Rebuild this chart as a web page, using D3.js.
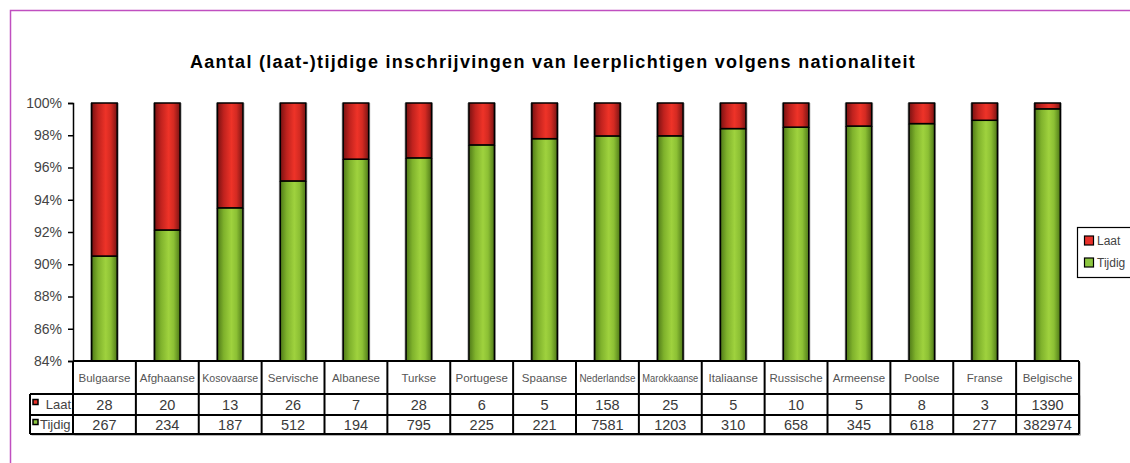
<!DOCTYPE html>
<html><head><meta charset="utf-8">
<script src="https://cdn.jsdelivr.net/npm/d3@7"></script>
<style>
html,body{margin:0;padding:0;background:#fff;}
svg{display:block;font-family:"Liberation Sans",Arial,sans-serif;}
</style></head>
<body>
<svg id="chart" width="1130" height="463"></svg>
<script>
const categories = ["Bulgaarse","Afghaanse","Kosovaarse","Servische","Albanese","Turkse","Portugese","Spaanse","Nederlandse","Marokkaanse","Italiaanse","Russische","Armeense","Poolse","Franse","Belgische"];
const laat =   [28, 20, 13, 26, 7, 28, 6, 5, 158, 25, 5, 10, 5, 8, 3, 1390];
const tijdig = [267, 234, 187, 512, 194, 795, 225, 221, 7581, 1203, 310, 658, 345, 618, 277, 382974];
const seriesNames = ["Tijdig","Laat"];
const yTicks = [0.84,0.86,0.88,0.90,0.92,0.94,0.96,0.98,1.00];
const title = "Aantal (laat-)tijdige inschrijvingen van leerplichtigen volgens nationaliteit";

const svg = d3.select("#chart");
const plot = {left:73, right:1079, top:103, bottom:361};

// outer frame
svg.append("rect").attr("x",10.5).attr("y",10.5).attr("width",1200).attr("height",600)
  .attr("fill","none").attr("stroke","#c04fc0").attr("stroke-width",1.5);

svg.append("text").attr("x",553).attr("y",68).attr("text-anchor","middle")
  .attr("font-size",18).attr("font-weight","bold").attr("letter-spacing",1.3).attr("fill","#000").text(title);

const defs = svg.append("defs");
function grad(id, stops){
  const g = defs.append("linearGradient").attr("id",id).attr("x1","0%").attr("x2","100%").attr("y1","0").attr("y2","0");
  stops.forEach(s=>g.append("stop").attr("offset",s[0]).attr("stop-color",s[1]));
}
grad("gRed",[["0%","#7a1212"],["25%","#c0221e"],["55%","#ee3328"],["75%","#d42a22"],["100%","#7a1414"]]);
grad("gGreen",[["0%","#4f7a18"],["25%","#7fb22c"],["55%","#9fd23e"],["75%","#8cc034"],["100%","#4f7a18"]]);
const fills = {Tijdig:"url(#gGreen)", Laat:"url(#gRed)"};
const solid = {Tijdig:"#8cc63f", Laat:"#e8302a"};

const data = categories.map((c,i)=>({cat:c, Tijdig:tijdig[i], Laat:laat[i]}));
const stack = d3.stack().keys(seriesNames).offset(d3.stackOffsetExpand);
const stacked = stack(data);

const x = d3.scaleBand().domain(categories).range([plot.left, plot.right]).paddingInner(0.595).paddingOuter(0.2975);
const y = d3.scaleLinear().domain([0.84,1]).range([plot.bottom, plot.top]);

defs.append("clipPath").attr("id","plotClip").append("rect")
  .attr("x",plot.left).attr("y",plot.top-2).attr("width",plot.right-plot.left).attr("height",plot.bottom-plot.top+2);

const gBars = svg.append("g").attr("clip-path","url(#plotClip)");
stacked.forEach(s=>{
  const key = s.key;
  gBars.selectAll(null).data(s).enter().append("rect")
    .attr("x",d=>x(d.data.cat)-1.5).attr("width",x.bandwidth()+3)
    .attr("y",d=>y(d[1])).attr("height",d=>Math.max(0,y(Math.max(d[0],0.83))-y(d[1])))
    .attr("fill","#a0a0a0");
  gBars.selectAll(null).data(s).enter().append("rect")
    .attr("x",d=>x(d.data.cat)).attr("width",x.bandwidth())
    .attr("y",d=>y(d[1])).attr("height",d=>Math.max(0,y(Math.max(d[0],0.83))-y(d[1])))
    .attr("fill",fills[key]).attr("stroke","#000").attr("stroke-width",1.5);
});

// y axis
const yAxis = d3.axisLeft(y).tickValues(yTicks).tickFormat(d3.format(".0%")).tickSize(5).tickPadding(6);
const ga = svg.append("g").attr("transform",`translate(${plot.left},0)`).call(yAxis);
ga.select(".domain").attr("stroke","#000").attr("stroke-width",1.5);
ga.selectAll(".tick line").attr("stroke","#000").attr("stroke-width",1.5);
ga.selectAll(".tick text").attr("font-size",14).attr("fill","#444").attr("font-family","'Liberation Sans',Arial,sans-serif");

// data table
const rowTop = [361, 394, 415, 434];
const labelLeft = 30;
const tg = svg.append("g");
const step = (plot.right-plot.left)/categories.length;
tg.append("rect").attr("x",labelLeft+1.5).attr("y",rowTop[1]+1.5).attr("width",plot.right-labelLeft).attr("height",rowTop[3]-rowTop[1]).attr("fill","#999");
tg.append("rect").attr("x",plot.left+1.5).attr("y",rowTop[0]+1.5).attr("width",plot.right-plot.left).attr("height",rowTop[3]-rowTop[0]).attr("fill","#999");
tg.append("rect").attr("x",labelLeft).attr("y",rowTop[1]).attr("width",plot.right-labelLeft).attr("height",rowTop[3]-rowTop[1]).attr("fill","#fff");
tg.append("rect").attr("x",plot.left).attr("y",rowTop[0]).attr("width",plot.right-plot.left).attr("height",rowTop[3]-rowTop[0]).attr("fill","#fff");

categories.forEach((c,i)=>{
  const cx = plot.left + step*i + step/2;
  const t = tg.append("text").attr("x",cx).attr("y",(rowTop[0]+rowTop[1])/2+4.5).attr("text-anchor","middle")
    .attr("font-size",11.5).attr("fill","#555").text(c);
  const w = t.node().getComputedTextLength();
  if (w > 56) t.attr("textLength", 56).attr("lengthAdjust","spacingAndGlyphs");
  tg.append("text").attr("x",cx).attr("y",(rowTop[1]+rowTop[2])/2+5.5).attr("text-anchor","middle")
    .attr("font-size",14.5).attr("fill","#3a3a3a").text(laat[i]);
  tg.append("text").attr("x",cx).attr("y",(rowTop[2]+rowTop[3])/2+5.5).attr("text-anchor","middle")
    .attr("font-size",14.5).attr("fill","#3a3a3a").text(tijdig[i]);
});
const line = (x1,y1,x2,y2,w)=>tg.append("line").attr("x1",x1).attr("y1",y1).attr("x2",x2).attr("y2",y2).attr("stroke","#000").attr("stroke-width",w);
line(plot.left,rowTop[0],plot.right,rowTop[0],2);
line(labelLeft,rowTop[1],plot.right,rowTop[1],2);
line(labelLeft,rowTop[2],plot.right,rowTop[2],2);
line(labelLeft,rowTop[3],plot.right,rowTop[3],2);
line(labelLeft,rowTop[1],labelLeft,rowTop[3],2);
for(let i=0;i<=categories.length;i++){
  const xx = plot.left + step*i;
  line(xx,rowTop[0],xx,rowTop[3],2);
}
const rowLabels = [["Laat",rowTop[1],rowTop[2]],["Tijdig",rowTop[2],rowTop[3]]];
rowLabels.forEach(([k,a,b])=>{
  const my = (a+b)/2;
  tg.append("rect").attr("x",33).attr("y",my-5).attr("width",5).attr("height",5)
    .attr("fill",solid[k]).attr("stroke","#000").attr("stroke-width",1.5);
  tg.append("text").attr("x",k==="Laat"?71:40).attr("y",my+4.5).attr("text-anchor",k==="Laat"?"end":"start")
    .attr("font-size",13).attr("fill","#444").text(k);
});

// legend
const lg = svg.append("g");
lg.append("rect").attr("x",1077.5).attr("y",227.5).attr("width",80).attr("height",50)
  .attr("fill","#fff").attr("stroke","#000").attr("stroke-width",1.2);
["Laat","Tijdig"].forEach((k,i)=>{
  const yy = 236 + i*22;
  lg.append("rect").attr("x",1084.5).attr("y",yy).attr("width",9).attr("height",9)
    .attr("fill",solid[k]).attr("stroke","#000").attr("stroke-width",1.2);
  lg.append("text").attr("x",1097).attr("y",yy+8.5).attr("font-size",12).attr("fill","#444").text(k);
});
</script>
</body></html>
